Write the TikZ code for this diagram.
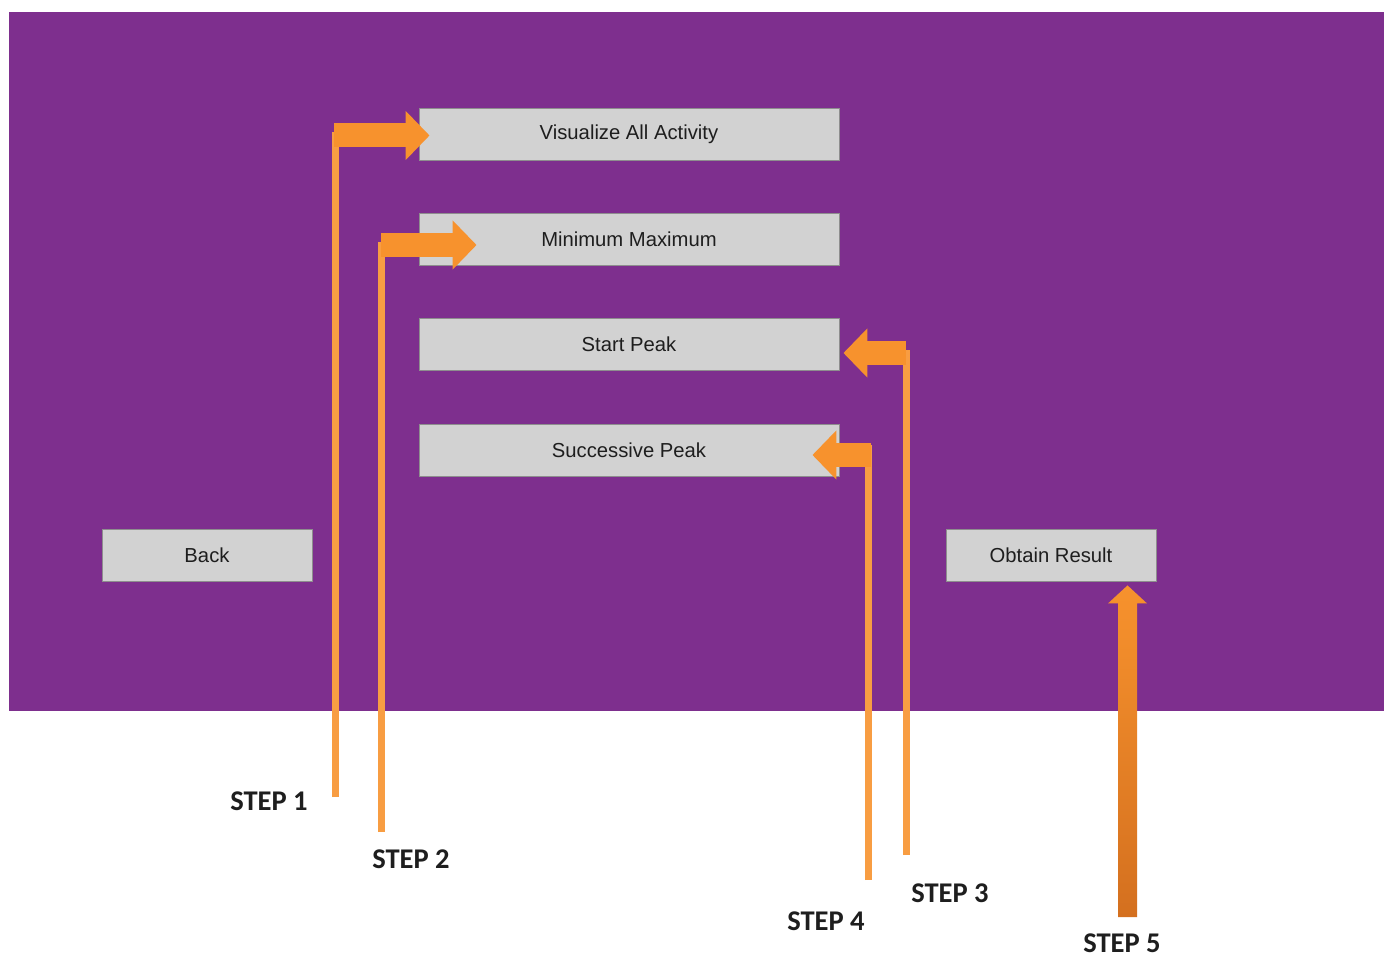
\documentclass[tikz,border=0pt]{standalone}
\usepackage{fontspec}
\setmainfont{Liberation Sans}
\newfontfamily\stepfont{Carlito}
\usetikzlibrary{arrows.meta, calc, shadows}
\definecolor{panel}{HTML}{7E2F8E}
\definecolor{btnfill}{HTML}{D2D2D2}
\definecolor{btnline}{HTML}{8E8E8E}
\definecolor{flow}{HTML}{F7922D}
\definecolor{flowdark}{HTML}{D4701F}
\definecolor{ink}{HTML}{1E1E1E}

\begin{document}
\begin{tikzpicture}[x=0.025cm, y=-0.025cm,
  btn/.style={draw=btnline, fill=btnfill, line width=0.6pt, minimum height=1.3cm,
              minimum width=10.5cm, inner sep=0pt, font=\fontsize{14.4}{17}\selectfont, text=ink,
              drop shadow={shadow xshift=1pt, shadow yshift=-1pt, opacity=0.3}},
  smallbtn/.style={btn, minimum width=5.25cm},
  steplbl/.style={font=\stepfont\bfseries\fontsize{20.3}{24}\selectfont, text=ink, inner sep=0pt},
  stem/.style={draw=flow!90!white, line width=0.175cm},
  fat/.style={draw=flow, line width=0.6cm, -{Triangle[length=0.6cm, width=1.2cm]}}
]
\useasboundingbox (0,0) rectangle (1384,957);
\fill[panel] (9,12) rectangle (1384,711);

% buttons
\node[btn] (vis) at (629,134) {Visualize All Activity};
\node[btn] (minmax) at (629,239) {Minimum Maximum};
\node[btn] (start) at (629,344) {Start Peak};
\node[btn] (succ) at (629,450) {Successive Peak};
\node[smallbtn] (back) at (207,555) {Back};
\node[smallbtn] (obtain) at (1051,555) {Obtain Result};

% step labels
\node[steplbl] (s1) at (269,801) {STEP 1};
\node[steplbl] (s2) at (411,859) {STEP 2};
\node[steplbl] (s3) at (950,893) {STEP 3};
\node[steplbl] (s4) at (826,921) {STEP 4};
\node[steplbl] (s5) at (1122,943) {STEP 5};

% turning points
\coordinate (f1) at (335.5,797);
\coordinate (k1) at (334,135.5);
\coordinate (t1) at ($(vis.west)+(11,1.5)$);
\coordinate (f2) at (381.5,832);
\coordinate (k2) at (381,245);
\coordinate (t2) at ($(minmax.west)+(58,6)$);
\coordinate (f3) at (906,855);
\coordinate (k3) at (906,353);
\coordinate (t3) at ($(start.east)+(4,9)$);
\coordinate (f4) at (868.5,880);
\coordinate (k4) at (871,455);
\coordinate (t4) at ($(succ.east)+(-27,5)$);
\coordinate (f5) at (1127.5,917);
\coordinate (t5) at ($(obtain.south)+(76.5,4)$);

% stems
\draw[stem] (f1) -- (f1 |- 0,132);
\draw[stem] (f2) -- (f2 |- 0,242);
\draw[stem] (f3) -- (f3 |- 0,350);
\draw[stem] (f4) -- (f4 |- 0,445);

% arrows into the buttons
\draw[fat] (k1) -- (t1);
\draw[fat] (k2) -- (t2);
\draw[fat] (k3) -- (t3);
\draw[fat] (k4) -- (t4);
\shade[top color=flow, bottom color=flowdark]
  ($(f5)+(-9.5,0)$) -- ($(t5)+(-9.5,18)$) -- ($(t5)+(-19.5,18)$) -- (t5)
  -- ($(t5)+(19.5,18)$) -- ($(t5)+(9.5,18)$) -- ($(f5)+(9.5,0)$) -- cycle;

\end{tikzpicture}
\end{document}
